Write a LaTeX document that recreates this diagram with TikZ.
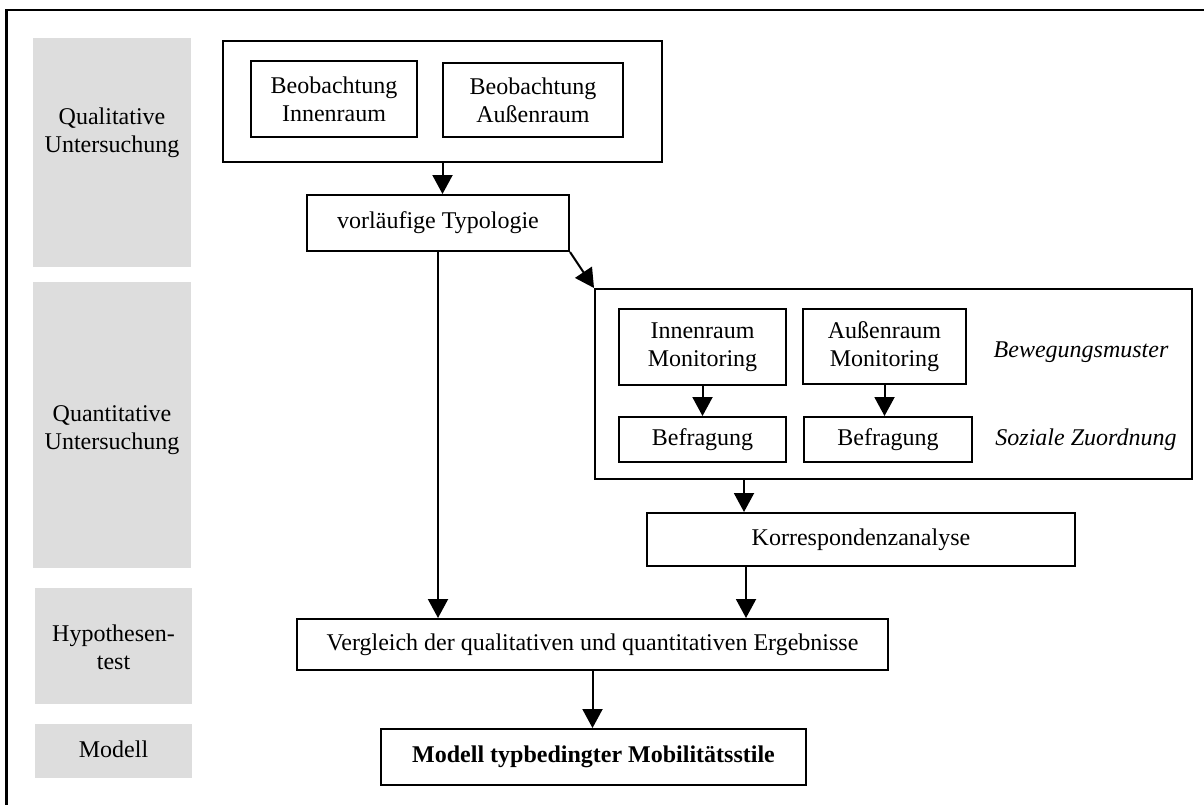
\documentclass[tikz,border=0pt]{standalone}
\usepackage{fontspec}
\setmainfont{Liberation Serif}
\usetikzlibrary{arrows.meta}
\definecolor{grayfill}{RGB}{221,221,221}
\begin{document}
\begin{tikzpicture}[x=0.5pt,y=-0.5pt,
  txt/.style={font=\fontsize{12}{14}\selectfont},
  box/.style={draw, line width=1pt, inner sep=0pt, align=center, txt},
  graybox/.style={fill=grayfill, inner sep=0pt},
  lbl/.style={align=center, txt},
  arr/.style={line width=1pt, -{Triangle[length=9.5pt,width=10pt]}},
]
\useasboundingbox (0,0) rectangle (1204,805);
% outer frame (cut off at right and bottom)
\coordinate (frTR) at (1204,10);
\coordinate (frTL) at (6.5,10);
\coordinate (frBL) at (6.5,805);
\draw[line width=1.2pt] (frTR) -- (frTL) -- (frBL);

% grey phase column
\node[graybox, minimum width=79pt, minimum height=114.5pt] (g1) at (112,152.5) {};
\node[graybox, minimum width=79pt, minimum height=143pt] (g2) at (112,425) {};
\node[graybox, minimum width=78.5pt, minimum height=58pt] (g3) at (113.5,646) {};
\node[graybox, minimum width=78.5pt, minimum height=27pt] (g4) at (113.5,751) {};
\node[lbl] (t1) at (112,133) {Qualitative\\Untersuchung};
\node[lbl] (t2) at (112,430) {Quantitative\\Untersuchung};
\node[lbl] (t3) at (113.5,647) {Hypothesen-\\test};
\node[lbl] (t4) at (113.5,749) {Modell};

% qualitative part
\node[box, minimum width=219.5pt, minimum height=60.5pt] (top) at (442.5,101.5) {};
\node[box, minimum width=83pt, minimum height=38pt] (bi) at (334,99) {Beobachtung\\Innenraum};
\node[box, minimum width=90pt, minimum height=37pt] (ba) at (533,100) {Beobachtung\\Außenraum};
\node[box, minimum width=131pt, minimum height=28pt] (vor) at (438,223) {vorläufige Typologie};

% quantitative part
\node[box, minimum width=298.5pt, minimum height=95pt] (quant) at (893.5,384) {};
\node[box, minimum width=83.5pt, minimum height=38pt] (im) at (702.5,347) {Innenraum\\Monitoring};
\node[box, minimum width=81.5pt, minimum height=37.5pt] (am) at (884.5,346.5) {Außenraum\\Monitoring};
\node[box, minimum width=83.5pt, minimum height=22.5pt] (bf1) at (702.5,439.5) {Befragung};
\node[box, minimum width=84pt, minimum height=22.5pt] (bf2) at (888,439.5) {Befragung};
\node[lbl, font=\fontsize{12}{14}\selectfont\itshape] (bew) at (1081,352) {Bewegungsmuster};
\node[lbl, font=\fontsize{12}{14}\selectfont\itshape] (soz) at (1086,440) {Soziale Zuordnung};
\node[box, minimum width=214pt, minimum height=26.5pt] (korr) at (861,539.5) {Korrespondenzanalyse};

% hypothesis test and model
\node[box, minimum width=295.5pt, minimum height=25.5pt] (verg) at (592.5,644.5) {Vergleich der qualitativen und quantitativen Ergebnisse};
\node[box, minimum width=212.5pt, minimum height=28pt] (mod) at (593.5,757) {\bfseries Modell typbedingter Mobilitätsstile};

% connectors
\draw[arr] (top.south) -- (top.south |- vor.north);
\draw[arr] (vor.south) -- (vor.south |- verg.north);
\draw[arr] (vor.south east) -- (quant.north west);
\draw[arr] (im.south) -- (im.south |- bf1.north);
\draw[arr] (am.south) -- (am.south |- bf2.north);
\draw[arr] ([xshift=75pt]quant.south west) -- ([xshift=75pt]quant.south west |- korr.north);
\draw[arr] ([xshift=50pt]korr.south west) -- ([xshift=50pt]korr.south west |- verg.north);
\draw[arr] (verg.south) -- (verg.south |- mod.north);
\end{tikzpicture}
\end{document}
